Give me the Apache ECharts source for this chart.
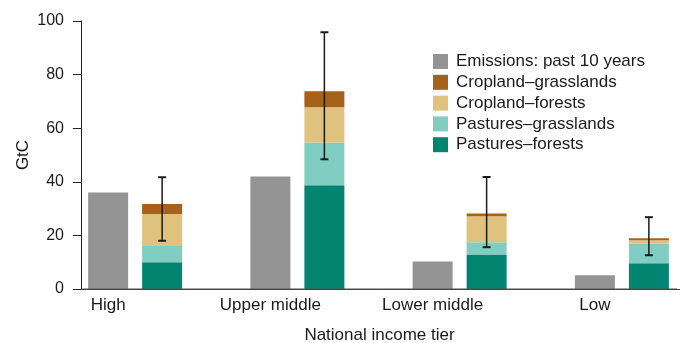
<!DOCTYPE html>
<html>
<head>
<meta charset="utf-8">
<script src="https://cdn.jsdelivr.net/npm/echarts@6/dist/echarts.min.js"></script>
<style>
html,body{margin:0;padding:0;background:#fff;}
#chart{width:680px;height:343px;}
</style>
</head>
<body>
<div id="chart"></div>
<script>
const categories = ['High', 'Upper middle', 'Lower middle', 'Low'];
const emissions = [36.0, 42.0, 10.3, 5.1];
const pasturesForests = [10.0, 38.7, 12.9, 9.6];
const pasturesGrasslands = [6.0, 16.0, 4.5, 7.4];
const croplandForests = [12.0, 13.1, 9.7, 1.2];
const croplandGrasslands = [3.7, 6.0, 1.1, 0.7];
const errLow = [18.0, 48.4, 15.6, 12.6];
const errHigh = [41.7, 95.8, 41.8, 26.8];
const yTicks = [0, 20, 40, 60, 80, 100];

const FONT = '"Liberation Sans", Arial, sans-serif';
const chart = echarts.init(document.getElementById('chart'), null, {renderer: 'canvas'});

const barW = 40;
const gap = '35%';

const option = {
  animation: false,
  textStyle: {fontFamily: FONT},
  grid: {left: 81, width: 649, top: 21, height: 268, containLabel: false, outerBoundsMode: 'none'},
  legend: {
    orient: 'vertical',
    left: 428,
    top: 48,
    itemWidth: 15,
    itemHeight: 15,
    itemGap: 3.8,
    icon: 'rect',
    textStyle: {fontFamily: FONT, fontSize: 17, color: '#1a1a1a', padding: [0, 0, 0, 3]},
    data: ['Emissions: past 10 years', 'Cropland–grasslands', 'Cropland–forests', 'Pastures–grasslands', 'Pastures–forests']
  },
  xAxis: {
    type: 'category',
    data: categories,
    z: 10,
    name: 'National income tier',
    nameLocation: 'middle',
    nameGap: 38,
    nameMoveOverlap: false,
    nameTextStyle: {fontFamily: FONT, fontSize: 17, color: '#1a1a1a', padding: [0, 52, 0, 0]},
    axisLine: {show: true, onZero: false, lineStyle: {color: '#444', width: 1}},
    axisTick: {show: false},
    axisLabel: {fontFamily: FONT, fontSize: 17, color: '#1a1a1a', margin: 8, padding: [0, 108, 0, 0]},
    splitLine: {show: false}
  },
  yAxis: {
    type: 'value',
    min: yTicks[0],
    max: yTicks[yTicks.length - 1],
    interval: 20,
    name: 'GtC',
    nameLocation: 'middle',
    nameGap: 49,
    nameMoveOverlap: false,
    nameTextStyle: {fontFamily: FONT, fontSize: 17, color: '#1a1a1a'},
    axisLine: {show: true, lineStyle: {color: '#222', width: 1}},
    axisTick: {show: true, length: 8, lineStyle: {color: '#222', width: 1}},
    axisLabel: {fontFamily: FONT, fontSize: 16, color: '#1a1a1a', margin: 17},
    splitLine: {show: false}
  },
  series: [
    {name: 'Emissions: past 10 years', type: 'bar', data: emissions, barWidth: barW, barGap: gap,
     itemStyle: {color: '#949494'}},
    {name: 'Pastures–forests', type: 'bar', stack: 'lu', data: pasturesForests, barWidth: barW, barGap: gap,
     itemStyle: {color: '#018571'}},
    {name: 'Pastures–grasslands', type: 'bar', stack: 'lu', data: pasturesGrasslands, barWidth: barW, barGap: gap,
     itemStyle: {color: '#80cdc1'}},
    {name: 'Cropland–forests', type: 'bar', stack: 'lu', data: croplandForests, barWidth: barW, barGap: gap,
     itemStyle: {color: '#dfc27d'}},
    {name: 'Cropland–grasslands', type: 'bar', stack: 'lu', data: croplandGrasslands, barWidth: barW, barGap: gap,
     itemStyle: {color: '#a6611a'}},
    {name: '_spacer', type: 'bar', data: categories.map(() => null), barWidth: barW, barGap: gap,
     itemStyle: {color: 'transparent'}},
    {
      name: 'error', type: 'custom', z: 10, clip: false,
      data: categories.map((c, i) => [i, errLow[i], errHigh[i]]),
      encode: {x: 0, y: [1, 2]},
      renderItem: function (params, api) {
        const i = api.value(0);
        const lo = api.coord([i, api.value(1)]);
        const hi = api.coord([i, api.value(2)]);
        const hw = 4;
        const style = {stroke: '#1a1a1a', lineWidth: 1.5};
        const children = [
          {type: 'line', shape: {x1: lo[0], y1: lo[1], x2: hi[0], y2: hi[1]}, style: style},
          {type: 'line', shape: {x1: lo[0] - hw, y1: lo[1], x2: lo[0] + hw, y2: lo[1]}, style: {stroke: '#1a1a1a', lineWidth: 2}},
          {type: 'line', shape: {x1: hi[0] - hw, y1: hi[1], x2: hi[0] + hw, y2: hi[1]}, style: {stroke: '#1a1a1a', lineWidth: 2}}
        ];
        if (params.dataIndex === 0) {
          const base = api.coord([0, 0])[1];
          const x0 = params.coordSys.x;
          const x1 = Math.min(params.coordSys.x + params.coordSys.width, api.getWidth() - 3);
          children.push({type: 'rect', shape: {x: x0, y: base - 0.6, width: x1 - x0, height: 1.3},
                         style: {fill: '#555'}});
        }
        return {type: 'group', children: children};
      }
    }
  ]
};
chart.setOption(option);
</script>
</body>
</html>
